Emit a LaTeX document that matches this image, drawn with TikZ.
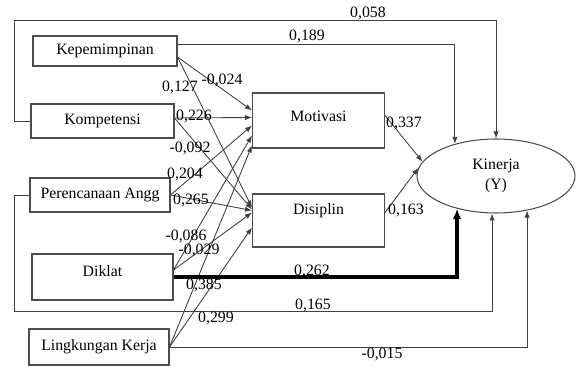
\documentclass[tikz,border=0pt]{standalone}
\usepackage{fontspec}
\setmainfont{Liberation Serif}
\usetikzlibrary{shapes.geometric,arrows.meta,calc}
\tikzset{
  varbox/.style={rectangle,draw=black!70,line width=0.6pt,inner sep=0pt,font=\fontsize{9}{10}\selectfont},
  kinnode/.style={ellipse,draw=black!70,line width=0.6pt,inner sep=0pt,minimum width=3.16cm,minimum height=1.48cm,align=center,font=\fontsize{9}{11.5}\selectfont},
  arr/.style={draw=black!75,line width=0.5pt,-{Latex[length=4pt,width=3pt]}},
  arrthick/.style={draw=black,line width=1.8pt,-{Latex[length=6pt,width=5pt]}},
  lbl/.style={font=\fontsize{9}{10}\selectfont,inner sep=0pt},
}

\begin{document}
\begin{tikzpicture}[x=0.02cm,y=-0.02cm]
  \useasboundingbox (0,0) rectangle (577,367);

  % exogenous variables
  \node[varbox,minimum width=2.88cm,minimum height=0.6cm] (kep) at (105,51) {Kepemimpinan};
  \node[varbox,minimum width=2.86cm,minimum height=0.68cm] (komp) at (102.5,121) {Kompetensi};
  \node[varbox,minimum width=2.8cm,minimum height=0.68cm] (renc) at (100,195) {Perencanaan Angg};
  \node[varbox,minimum width=2.82cm,minimum height=0.92cm,text depth=6.8pt] (dik) at (102.5,277) {Diklat};
  \node[varbox,minimum width=2.8cm,minimum height=0.72cm] (ling) at (99,347) {Lingkungan Kerja};
  % intervening variables
  \node[varbox,minimum width=2.64cm,minimum height=1.1cm,text depth=5pt] (mot) at (318.5,120.5) {Motivasi};
  \node[varbox,minimum width=2.64cm,minimum height=1.06cm,text depth=13.4pt] (dis) at (318.5,220.5) {Disiplin};
  % outcome
  \node[kinnode] (kin) at (496,176) {Kinerja\\(Y)};

  % paths to Motivasi and Disiplin
  \draw[arr] ($(kep.east)+(0,6)$) -- ($(mot.west)+(0,-10)$);
  \draw[arr] ($(kep.east)+(0,6)$) -- ($(dis.west)+(0,-13)$);
  \draw[arr] ($(komp.east)+(0,-3)$) -- ($(mot.west)+(0,-3)$);
  \draw[arr] ($(komp.east)+(0,-3)$) -- ($(dis.west)+(0,-11)$);
  \draw[arr] (renc.east) -- ($(mot.west)+(0,5)$);
  \draw[arr] (renc.east) -- ($(dis.west)+(0,-10)$);
  \draw[arr] ($(dik.east)+(0,-7)$) -- ($(mot.west)+(0,15)$);
  \draw[arr] ($(dik.east)+(0,-7)$) -- ($(dis.west)+(0,-8)$);
  \draw[arr] (ling.east) -- ($(mot.west)+(0,25)$);
  \draw[arr] (ling.east) -- ($(dis.west)+(0,7)$);
  % paths to Kinerja
  \draw[arr] ($(mot.east)+(0,-5)$) -- (kin.169);
  \draw[arr] ($(dis.east)+(0,-8)$) -- (kin.174);
  \draw[arr] (komp.west) -- ++(-16,0) -- ++(0,-101) -| (kin.north);
  \draw[arr] ($(kep.east)+(0,-7)$) -| (kin.142);
  \draw[arrthick] (dik.east) -| (kin.-140);
  \draw[arr] (renc.west) -- ++(-15,0) -- ++(0,116) -| (kin.-96);
  \draw[arr] (ling.east) -| (kin.-48);

  % coefficients
  \node[lbl] (w058) at (368,13) {0,058};
  \node[lbl] (w189) at (307,36) {0,189};
  \node[lbl] (w127) at (180,87) {0,127};
  \node[lbl] (w024) at (222,80) {-0,024};
  \node[lbl] (w226) at (194,116) {0,226};
  \node[lbl] (w092) at (190,148) {-0,092};
  \node[lbl] (w204) at (185,174) {0,204};
  \node[lbl] (w265) at (191,200) {0,265};
  \node[lbl] (w086) at (186,236) {-0,086};
  \node[lbl] (w029) at (199,250) {-0,029};
  \node[lbl] (w385) at (204,285) {0,385};
  \node[lbl] (w299) at (216,318) {0,299};
  \node[lbl] (w262) at (312,271) {0,262};
  \node[lbl] (w165) at (313,305) {0,165};
  \node[lbl] (w015) at (382,354) {-0,015};
  \node[lbl] (w337) at (404,123) {0,337};
  \node[lbl] (w163) at (406,210) {0,163};
\end{tikzpicture}
\end{document}
